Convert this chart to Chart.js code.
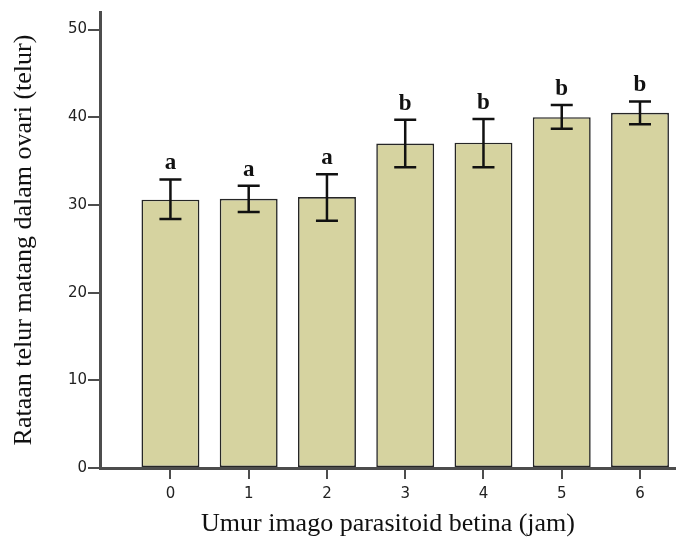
<!DOCTYPE html>
<html>
<head>
<meta charset="utf-8">
<script src="https://cdn.jsdelivr.net/npm/chart.js@4/dist/chart.umd.min.js"></script>
<style>
  html, body { margin: 0; padding: 0; background: #fff; }
  #wrap { width: 676px; height: 538px; }
</style>
</head>
<body>
<div id="wrap"><canvas id="myChart" width="676" height="538"></canvas></div>
<script>
// data
const hours = [0, 1, 2, 3, 4, 5, 6];
const meanEggs = [30.6, 30.7, 30.9, 37.0, 37.1, 40.0, 40.5];
const errLow = [28.4, 29.2, 28.2, 34.3, 34.3, 38.7, 39.2];
const errHigh = [32.9, 32.2, 33.5, 39.7, 39.8, 41.4, 41.8];
const letters = ['a', 'a', 'a', 'b', 'b', 'b', 'b'];
const yTicks = [0, 10, 20, 30, 40, 50];

const axisColor = '#4d4d4d';

// error bars + significance letters
const errorBars = {
  id: 'errorBars',
  afterDatasetsDraw(chart) {
    const ctx = chart.ctx;
    const xs = chart.scales.x;
    const ys = chart.scales.y;
    ctx.save();
    ctx.strokeStyle = '#111';
    ctx.lineWidth = 2.5;
    hours.forEach((h, i) => {
      const x = xs.getPixelForValue(h);
      const top = ys.getPixelForValue(errHigh[i]);
      const bot = ys.getPixelForValue(errLow[i]);
      ctx.beginPath();
      ctx.moveTo(x, top); ctx.lineTo(x, bot);
      ctx.moveTo(x - 11, top); ctx.lineTo(x + 11, top);
      ctx.moveTo(x - 11, bot); ctx.lineTo(x + 11, bot);
      ctx.stroke();
      ctx.fillStyle = '#111';
      ctx.font = 'bold 23px "Liberation Serif"';
      ctx.textAlign = 'center';
      ctx.textBaseline = 'alphabetic';
      ctx.fillText(letters[i], x, top - 10);
    });
    ctx.restore();
  }
};

const ctx = document.getElementById('myChart').getContext('2d');
// eslint-disable-next-line
var myChart = new Chart(ctx, {
  type: 'bar',
  data: {
    datasets: [{
      data: hours.map((h, i) => ({ x: h, y: meanEggs[i] })),
      backgroundColor: '#d6d3a0',
      borderColor: '#262626',
      borderWidth: 1.6,
      borderSkipped: false,
      categoryPercentage: 1,
      barPercentage: 0.74,
    }],
  },
  options: {
    responsive: false,
    animation: false,
    devicePixelRatio: 1,
    layout: { padding: { top: 12, right: 0, left: 0, bottom: 0 } },
    plugins: { legend: { display: false }, tooltip: { enabled: false } },
    scales: {
      x: {
        type: 'linear',
        min: -0.9,
        max: 6.46,
        offset: false,
        afterBuildTicks: (scale) => { scale.ticks = hours.map(v => ({ value: v })); },
        afterFit: (scale) => { scale.height = 70; },
        grid: { display: true, drawOnChartArea: false, offset: false, color: axisColor, lineWidth: 2, tickLength: 11 },
        border: { display: true, color: axisColor, width: 3 },
        ticks: { color: '#222', font: { family: 'DejaVu Sans', size: 15 }, padding: 6 },
        title: {
          display: true,
          text: 'Umur imago parasitoid betina (jam)',
          color: '#111',
          font: { family: 'Liberation Serif', size: 26, lineHeight: 1 },
          padding: { top: 0, bottom: 1 },
        },
      },
      y: {
        min: 0,
        max: 52,
        afterBuildTicks: (scale) => { scale.ticks = yTicks.map(v => ({ value: v })); },
        afterFit: (scale) => { scale.width = 100; },
        grid: { display: true, drawOnChartArea: false, color: axisColor, lineWidth: 2, tickLength: 12 },
        border: { display: true, color: axisColor, width: 3 },
        ticks: { color: '#222', font: { family: 'DejaVu Sans', size: 15 }, padding: 1 },
        title: {
          display: true,
          text: 'Rataan telur matang dalam ovari (telur)',
          color: '#111',
          font: { family: 'Liberation Serif', size: 26, lineHeight: 1 },
          padding: { top: 11, bottom: 0 },
        },
      },
    },
  },
  plugins: [errorBars],
});
</script>
</body>
</html>
